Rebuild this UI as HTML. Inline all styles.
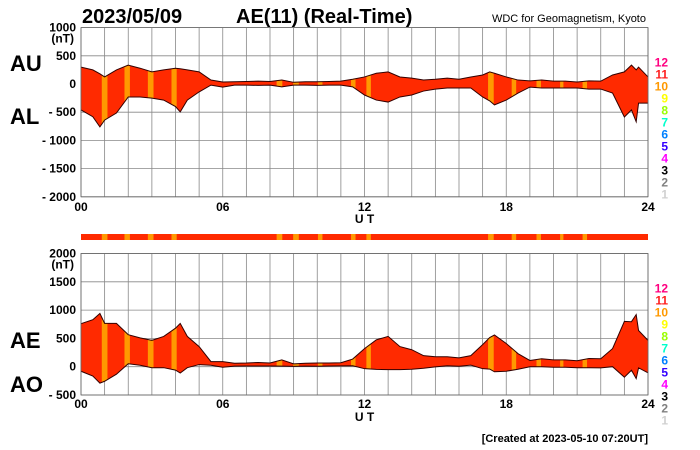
<!DOCTYPE html>
<html><head><meta charset="utf-8"><style>
body{margin:0;background:#fff}
svg{display:block;font-family:"Liberation Sans",sans-serif}
.t{font-weight:bold;font-size:12px}
</style></head><body>
<svg id="c" width="700" height="450" viewBox="0 0 700 450">
<text x="82" y="23" font-size="20" font-weight="bold">2023/05/09</text>
<text x="236" y="23" font-size="20" font-weight="bold">AE(11) (Real-Time)</text>
<text x="646" y="22" font-size="11" text-anchor="end">WDC for Geomagnetism, Kyoto</text>
<text x="10" y="71" font-size="22" font-weight="bold">AU</text>
<text x="10" y="124" font-size="22" font-weight="bold">AL</text>
<text x="10" y="348" font-size="22" font-weight="bold">AE</text>
<text x="10" y="392" font-size="22" font-weight="bold">AO</text>
<text x="648" y="442" font-size="11" font-weight="bold" text-anchor="end">[Created at 2023-05-10 07:20UT]</text>
<g id="g"></g>
</svg>
<script>
const hours=[0,0.5,0.8,1,1.5,2,2.5,3,3.5,4,4.2,4.5,5,5.5,6,6.5,7,7.5,8,8.5,9,9.5,10,10.5,11,11.5,12,12.5,13,13.5,14,14.5,15,15.5,16,16.5,17,17.3,17.5,18,18.5,19,19.5,20,20.5,21,21.5,22,22.5,23,23.3,23.5,23.6,24];
const au=[300,250,180,125,250,335,280,215,250,280,270,250,215,70,35,40,45,50,45,70,30,40,40,45,50,85,125,190,215,125,105,70,85,105,85,125,160,215,190,125,70,55,70,50,50,35,55,50,160,215,335,250,300,125];
const al=[-460,-580,-760,-640,-515,-230,-230,-250,-285,-400,-495,-285,-140,-20,-55,-20,-20,-25,-20,-50,-20,-20,-25,-20,-20,-50,-195,-285,-320,-230,-195,-125,-90,-70,-70,-70,-230,-300,-370,-285,-160,-55,-70,-70,-70,-70,-90,-90,-160,-585,-460,-670,-340,-340];
const orangeStart=[0.88,1.84,2.83,3.83,8.28,8.98,10.03,11.43,12.08,17.23,18.23,19.28,20.28,21.23];
const orangeEnd=[1.12,2.07,3.07,4.05,8.52,9.22,10.22,11.62,12.27,17.47,18.42,19.47,20.42,21.42];
const topTicks=[1000,500,0,-500,-1000,-1500,-2000];
const botTicks=[2000,1500,1000,500,0,-500];
const xTicks=[0,6,12,18,24];
const xTickLabels=["00","06","12","18","24"];
const legendNums=["12","11","10","9","8","7","6","5","4","3","2","1"];
const legendColors=["#ff0080","#ff2020","#ff9900","#ffff00","#99ff00","#00ffcc","#0080ff","#3300ff","#ff00ff","#000000","#808080","#d0d0d0"];

const NS="http://www.w3.org/2000/svg";
const G=document.getElementById('g');
function mk(t,a,p){const e=document.createElementNS(NS,t);for(const k in a)e.setAttribute(k,a[k]);(p||G).appendChild(e);return e;}
const X0=81,X1=648;
const xs=h=>X0+h*(X1-X0)/24;
const yTop=v=>84-v*28.2/500;
const yBot=v=>366.7-v*28.3/500;
const ae=au.map((v,i)=>v-al[i]);
const ao=au.map((v,i)=>(v+al[i])/2);

function panel(id,y,ticks,upper,lower,yTopPx,yBotPx,xLabY,utY){
  for(let h=0;h<=24;h++){
    const l=mk('line',{x1:xs(h),x2:xs(h),y1:yTopPx,y2:yBotPx,stroke:'#888','stroke-width':0.8});
    
    
  }
  ticks.forEach(v=>{
    const l=mk('line',{x1:X0,x2:X1,y1:y(v),y2:y(v),stroke:'#888','stroke-width':0.8});
    
    
    const t=mk('text',{x:76,y:y(v)+4,'text-anchor':'end',class:'t'});
    t.textContent=(v<0?'- '+(-v):v);
    
    
  });
  const nt=mk('text',{x:74,y:y(ticks[0])+15,'text-anchor':'end',class:'t','font-size':11});
  nt.textContent='(nT)';
  
  
  const pts=hours.map((h,i)=>xs(h)+','+y(upper[i])).join(' ')+' '+hours.slice().reverse().map((h,j)=>{const i=hours.length-1-j;return xs(h)+','+y(lower[i]);}).join(' ');
  const cp=mk('clipPath',{id:'cp'+id});
  mk('polygon',{points:pts},cp);
  const area=mk('polygon',{points:pts,fill:'#ff2a00'});
  
  
  const bg=mk('g',{'clip-path':'url(#cp'+id+')'});
  orangeStart.forEach((s,i)=>{
    const r=mk('rect',{x:xs(s),y:yTopPx,width:xs(orangeEnd[i])-xs(s),height:yBotPx-yTopPx,fill:'#ff9900'},bg);
    
    
  });
  const up=mk('polyline',{points:hours.map((h,i)=>xs(h)+','+y(upper[i])).join(' '),fill:'none',stroke:'#300','stroke-width':1});
  
  
  const lo=mk('polyline',{points:hours.map((h,i)=>xs(h)+','+y(lower[i])).join(' '),fill:'none',stroke:'#300','stroke-width':1});
  
  
  const fr=mk('rect',{x:X0,y:yTopPx,width:X1-X0,height:yBotPx-yTopPx,fill:'none',stroke:'#666','stroke-width':0.8});
  
  
  xTicks.forEach((h,i)=>{
    const t=mk('text',{x:xs(h),y:xLabY,'text-anchor':'middle',class:'t'});
    t.textContent=xTickLabels[i];
    
    
  });
  const ut=mk('text',{x:xs(12),y:utY,'text-anchor':'middle',class:'t','font-size':13});
  ut.textContent='U T';
  
  
  legendNums.forEach((n,i)=>{
    const t=mk('text',{x:668,y:yTopPx+39+i*12,'text-anchor':'end',class:'t','font-size':13,fill:legendColors[i]});
    t.textContent=n;
    
    
  });
}
panel('top',yTop,topTicks,au,al,yTop(1000),yTop(-2000),211,223);
panel('bottom',yBot,botTicks,ae,ao,yBot(2000),yBot(-500),408,421);
const strip=mk('rect',{x:X0,y:234,width:X1-X0,height:6,fill:'#ff2a00'});


orangeStart.forEach((s,i)=>{
  const r=mk('rect',{x:xs(s),y:234,width:xs(orangeEnd[i])-xs(s),height:6,fill:'#ff9900'});
  
  
});
</script>
</body></html>
